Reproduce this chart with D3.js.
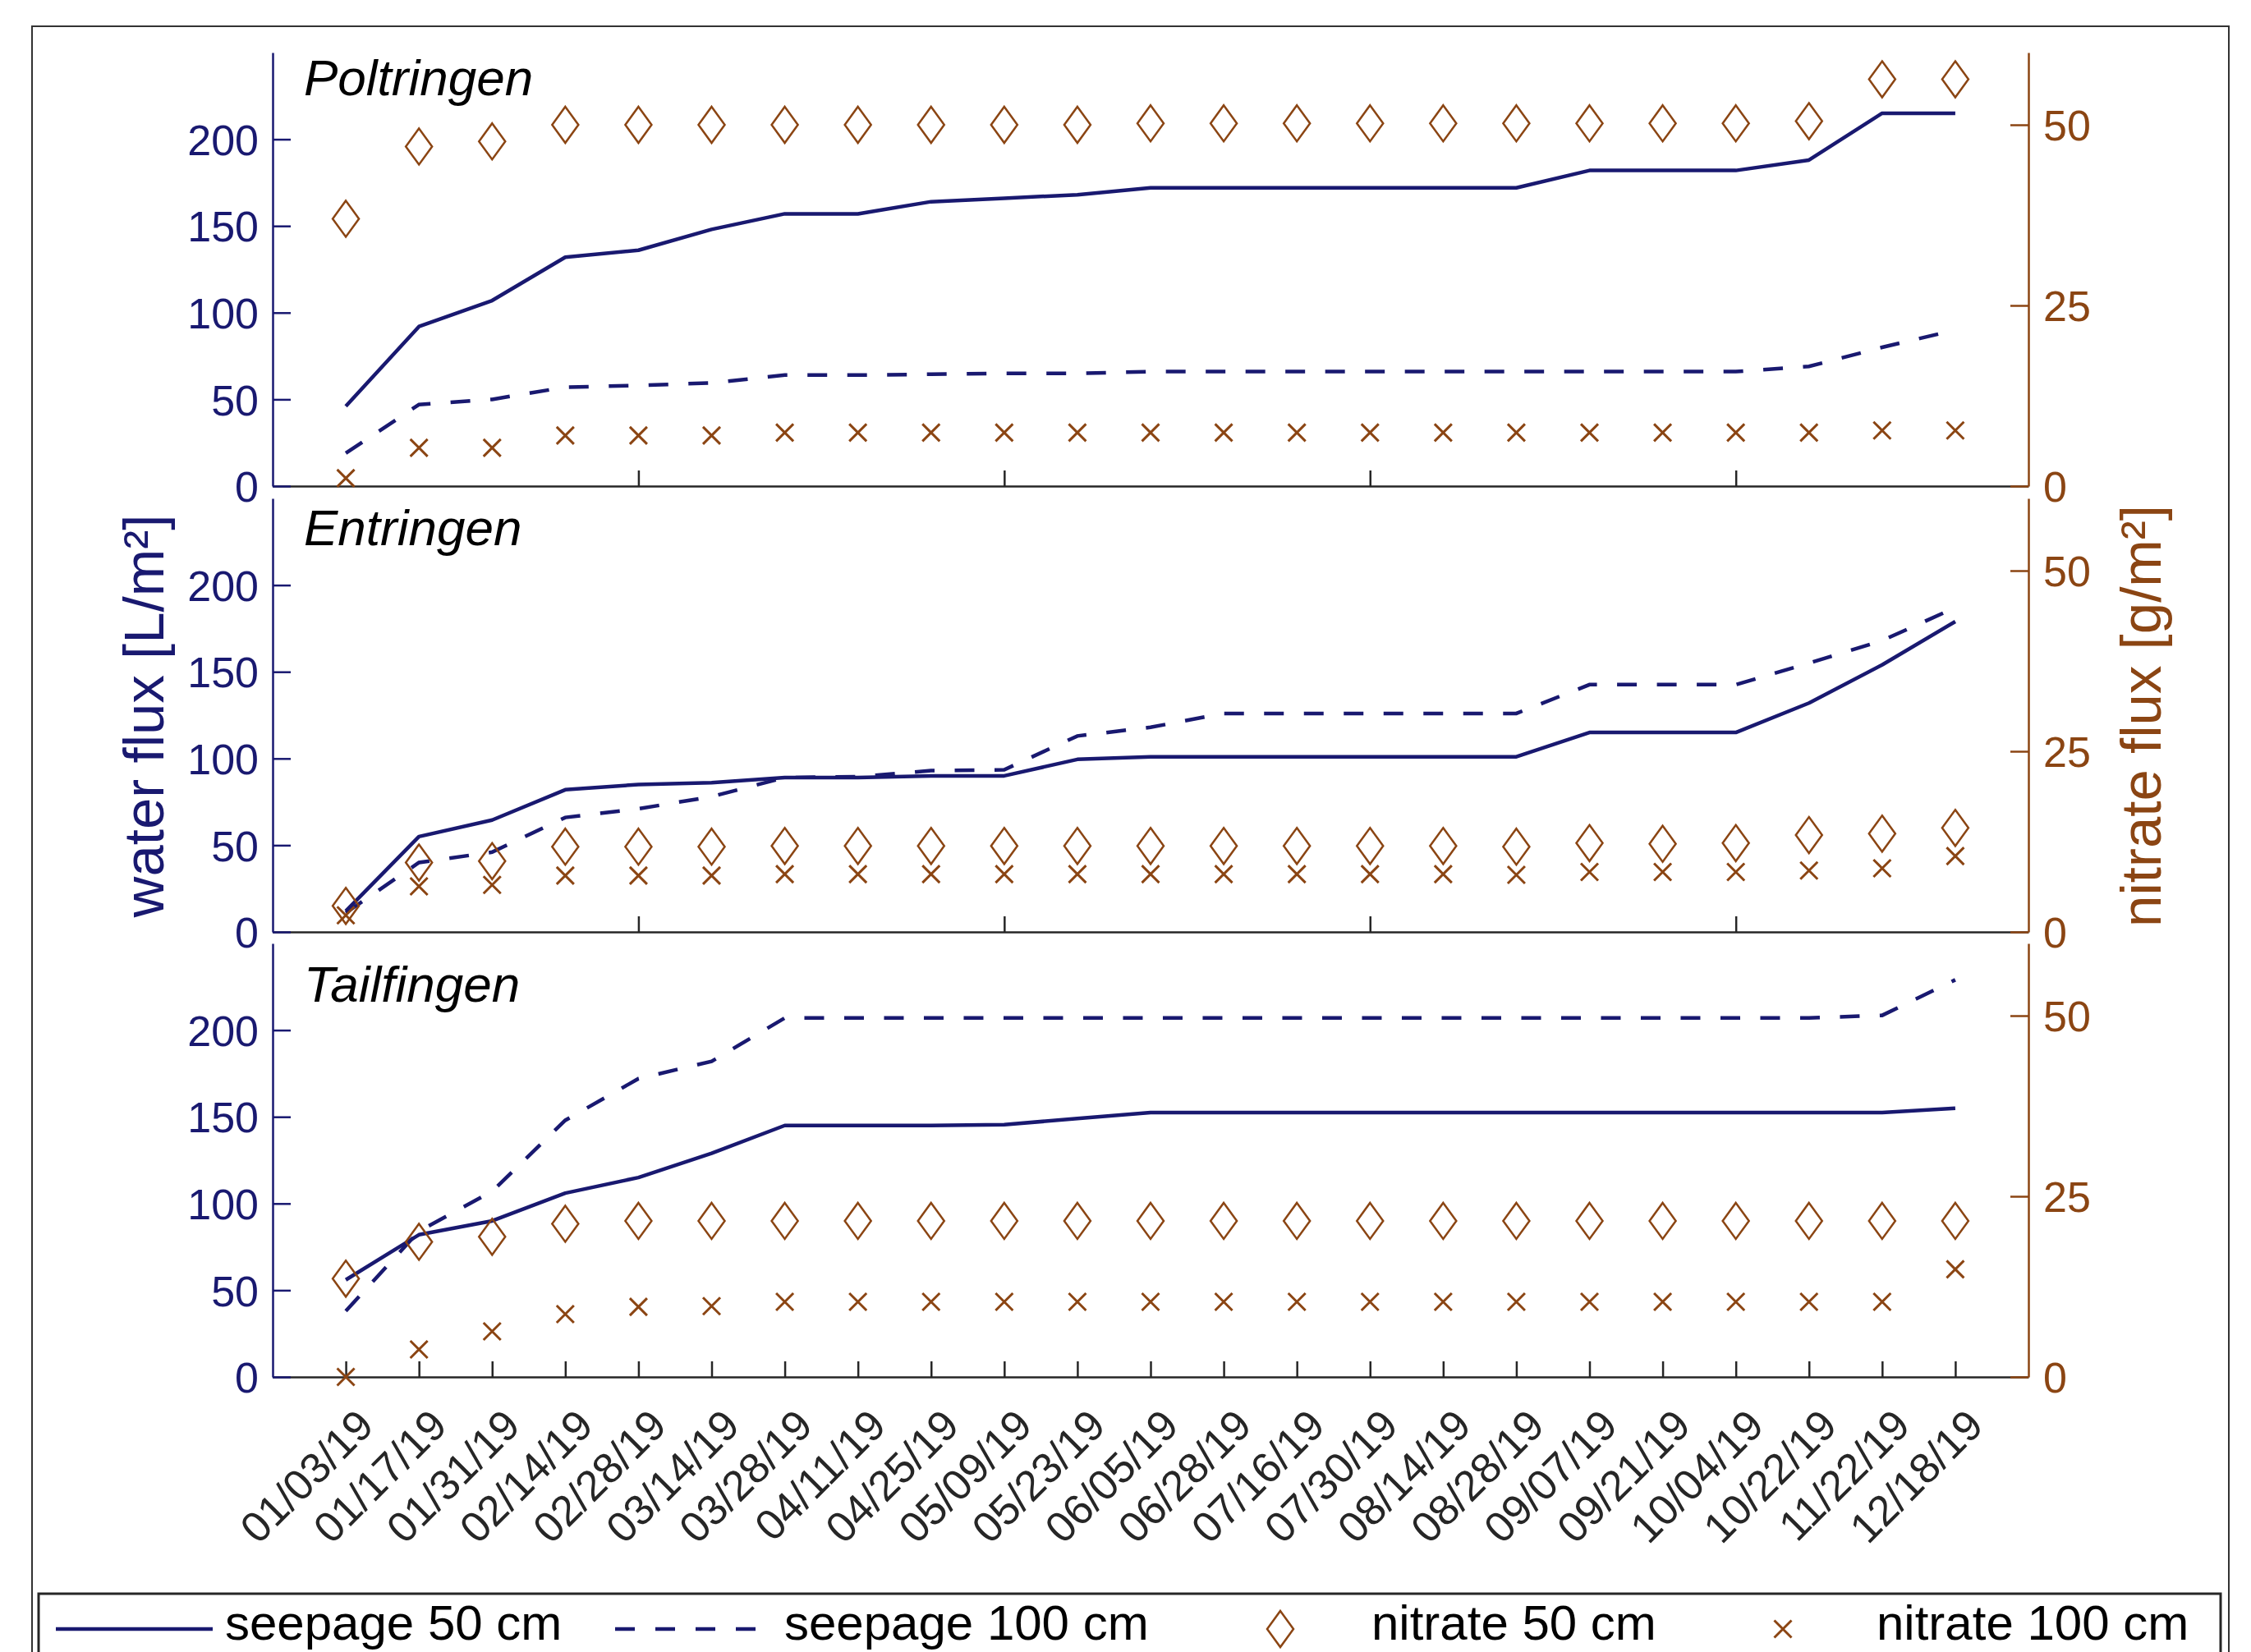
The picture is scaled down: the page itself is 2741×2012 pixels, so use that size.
<!DOCTYPE html>
<html>
<head>
<meta charset="utf-8">
<script src="https://cdn.jsdelivr.net/npm/d3@7"></script>
<style>
  html, body { margin: 0; padding: 0; background: #fff; }
  svg { display: block; }
  text { font-family: "Liberation Sans", Arial, sans-serif; }
</style>
</head>
<body>
<svg id="chart" width="2741" height="2012"></svg>
<script>
// ---------- data ----------
const dates = ["01/03/19","01/17/19","01/31/19","02/14/19","02/28/19","03/14/19","03/28/19","04/11/19",
  "04/25/19","05/09/19","05/23/19","06/05/19","06/28/19","07/16/19","07/30/19","08/14/19","08/28/19",
  "09/07/19","09/21/19","10/04/19","10/22/19","11/22/19","12/18/19"];

const siteNames = ["Poltringen", "Entringen", "Tailfingen"];

// water flux [L/m²] (left axis)
const poltSeep50  = [46, 92, 107, 132, 136, 148, 157, 157, 164, 166, 168, 172, 172, 172, 172, 172, 172, 182, 182, 182, 188, 215, 215];
const poltSeep100 = [19, 47, 50, 57, 58, 59.5, 64, 64, 64.5, 65, 65, 66, 66, 66, 66, 66, 66, 66, 66, 66, 69, 80, 90];
const entrSeep50  = [12, 55, 64.5, 82, 85, 86, 89, 89, 90, 90, 99.5, 101, 101, 101, 101, 101, 101, 115, 115, 115, 132, 154, 179];
const entrSeep100 = [11, 40, 46, 66, 71, 78, 89, 89.5, 93, 93.5, 113, 118, 126, 126, 126, 126, 126, 142.6, 142.6, 142.6, 155, 168, 187];
const tailSeep50  = [56, 82, 90, 106, 115, 129, 145, 145, 145, 145.5, 149, 152.5, 152.5, 152.5, 152.5, 152.5, 152.5, 152.5, 152.5, 152.5, 152.5, 152.5, 155];
const tailSeep100 = [38, 84, 107, 148, 172, 182, 207, 207, 207, 207, 207, 207, 207, 207, 207, 207, 207, 207, 207, 207, 207, 208.5, 229];

// nitrate flux [g/m²] (right axis)
const poltNit50  = [37, 47, 47.7, 50, 50, 50, 50, 50, 50, 50, 50, 50.2, 50.2, 50.2, 50.2, 50.2, 50.2, 50.2, 50.2, 50.2, 50.5, 56.3, 56.3];
const poltNit100 = [1.1, 5.3, 5.3, 7.0, 7.0, 7.0, 7.4, 7.4, 7.4, 7.4, 7.4, 7.4, 7.4, 7.4, 7.4, 7.4, 7.4, 7.4, 7.4, 7.4, 7.4, 7.7, 7.7];
const entrNit50  = [3.6, 9.6, 9.8, 11.8, 11.8, 11.8, 11.9, 11.9, 11.9, 11.9, 11.9, 11.9, 11.9, 11.9, 11.9, 11.9, 11.8, 12.3, 12.2, 12.3, 13.4, 13.6, 14.4];
const entrNit100 = [2.3, 6.3, 6.5, 7.8, 7.8, 7.8, 8.0, 8.0, 8.0, 8.0, 8.0, 8.0, 8.0, 8.0, 8.0, 8.0, 7.9, 8.3, 8.3, 8.3, 8.5, 8.8, 10.5];
const tailNit50  = [13.6, 18.7, 19.4, 21.2, 21.6, 21.6, 21.6, 21.6, 21.6, 21.6, 21.6, 21.6, 21.6, 21.6, 21.6, 21.6, 21.6, 21.6, 21.6, 21.6, 21.6, 21.6, 21.6];
const tailNit100 = [0, 3.8, 6.3, 8.7, 9.7, 9.8, 10.4, 10.4, 10.4, 10.4, 10.4, 10.4, 10.4, 10.4, 10.4, 10.4, 10.4, 10.4, 10.4, 10.4, 10.4, 10.4, 14.9];

const leftTicks = [0, 50, 100, 150, 200];
const rightTicks = [0, 25, 50];
const upperXTicks = [4, 9, 14, 19];
const legendLabels = ["seepage 50 cm", "seepage 100 cm", "nitrate 50 cm", "nitrate 100 cm"];

const panels = [
  {name: siteNames[0], s50: poltSeep50, s100: poltSeep100, n50: poltNit50, n100: poltNit100},
  {name: siteNames[1], s50: entrSeep50, s100: entrSeep100, n50: entrNit50, n100: entrNit100},
  {name: siteNames[2], s50: tailSeep50, s100: tailSeep100, n50: tailNit50, n100: tailNit100}
];

// ---------- layout ----------
const NAVY = "#191970", BROWN = "#8B4513", AXIS = "#262626";
const FONT = "'Liberation Sans', Arial, sans-serif";
const plotLeft = 332, plotRight = 2470;
const panelTops = [64, 607, 1149];
const panelH = 528;
const titleOffsets = [52, 57, 71];

const svg = d3.select("#chart");
svg.append("rect").attr("width", 2741).attr("height", 2012).attr("fill", "#fff");

// outer figure frame
svg.append("rect").attr("x", 39).attr("y", 32).attr("width", 2675).attr("height", 2100)
  .attr("fill", "none").attr("stroke", "#333").attr("stroke-width", 2);

const x = d3.scaleLinear().domain([-1, 23]).range([plotLeft, plotRight]);

const diamondPath = "M0,-22 L16,0 L0,22 L-16,0 Z";
const crossPath = "M-10.5,-10.5 L10.5,10.5 M-10.5,10.5 L10.5,-10.5";

panels.forEach((p, pi) => {
  const top = panelTops[pi], bottom = top + panelH;
  const yL = d3.scaleLinear().domain([0, 250]).range([bottom, top]);
  const yR = d3.scaleLinear().domain([0, 60]).range([bottom, top]);
  const g = svg.append("g");
  const isLast = pi === panels.length - 1;

  // x axis
  const xAxis = d3.axisBottom(x)
    .tickValues(isLast ? d3.range(dates.length) : upperXTicks)
    .tickSizeInner(-19).tickSizeOuter(0)
    .tickFormat(i => isLast ? dates[i] : "");
  const gx = g.append("g").attr("transform", `translate(0,${bottom})`)
    .attr("color", AXIS).call(xAxis);
  gx.select(".domain").attr("stroke-width", 2.5);
  gx.selectAll(".tick line").attr("stroke-width", 2.5);
  gx.selectAll(".tick text")
    .attr("font-family", FONT).attr("font-size", 52).attr("fill", AXIS)
    .attr("x", null).attr("y", null).attr("dy", "0.358em")
    .attr("text-anchor", "end")
    .attr("transform", "translate(23,49) rotate(-45)");

  // lines
  const line = d3.line().x((d, i) => x(i)).y(d => yL(d));
  g.append("path").datum(p.s50).attr("d", line)
    .attr("fill", "none").attr("stroke", NAVY).attr("stroke-width", 4.5).attr("stroke-linejoin", "round");
  g.append("path").datum(p.s100).attr("d", line)
    .attr("fill", "none").attr("stroke", NAVY).attr("stroke-width", 4.5)
    .attr("stroke-dasharray", "24,24.5");

  // markers
  g.selectAll(".dia").data(p.n50).enter().append("path")
    .attr("transform", (d, i) => `translate(${x(i)},${yR(d)})`)
    .attr("d", diamondPath).attr("fill", "none").attr("stroke", BROWN).attr("stroke-width", 2.5);
  g.selectAll(".crs").data(p.n100).enter().append("path")
    .attr("transform", (d, i) => `translate(${x(i)},${yR(d)})`)
    .attr("d", crossPath).attr("fill", "none").attr("stroke", BROWN).attr("stroke-width", 3);

  // left axis
  const gl = g.append("g").attr("transform", `translate(${plotLeft},0)`).attr("color", NAVY)
    .call(d3.axisLeft(yL).tickValues(leftTicks).tickSizeInner(-22).tickSizeOuter(0).tickPadding(17));
  gl.select(".domain").attr("stroke-width", 2.5);
  gl.selectAll(".tick line").attr("stroke-width", 2.5);
  gl.selectAll(".tick text").attr("font-family", FONT).attr("font-size", 52).attr("dy", "0.358em");

  // right axis
  const gr = g.append("g").attr("transform", `translate(${plotRight},0)`).attr("color", BROWN)
    .call(d3.axisRight(yR).tickValues(rightTicks).tickSizeInner(-22).tickSizeOuter(0).tickPadding(18));
  gr.select(".domain").attr("stroke-width", 2.5);
  gr.selectAll(".tick line").attr("stroke-width", 2.5);
  gr.selectAll(".tick text").attr("font-family", FONT).attr("font-size", 52).attr("dy", "0.358em");

  // panel title
  g.append("text").attr("x", 370).attr("y", top + titleOffsets[pi])
    .attr("font-family", FONT).attr("font-size", 62).attr("font-style", "italic")
    .attr("fill", "#000").text(p.name);
});

// axis titles
svg.append("text").attr("transform", "translate(199,872) rotate(-90)")
  .attr("text-anchor", "middle").attr("font-family", FONT).attr("font-size", 69)
  .attr("fill", NAVY).text("water flux [L/m²]");
svg.append("text").attr("transform", "translate(2631,872) rotate(-90)")
  .attr("text-anchor", "middle").attr("font-family", FONT).attr("font-size", 69)
  .attr("fill", BROWN).text("nitrate flux [g/m²]");

// legend
const lg = svg.append("g");
lg.append("rect").attr("x", 47).attr("y", 1941).attr("width", 2657).attr("height", 200)
  .attr("fill", "#fff").attr("stroke", AXIS).attr("stroke-width", 3);
const legY = 1984, legTextY = 1997;
lg.append("line").attr("x1", 68).attr("x2", 259).attr("y1", legY).attr("y2", legY)
  .attr("stroke", NAVY).attr("stroke-width", 4.5);
lg.append("line").attr("x1", 749).attr("x2", 920).attr("y1", legY).attr("y2", legY)
  .attr("stroke", NAVY).attr("stroke-width", 4.5).attr("stroke-dasharray", "24,25");
lg.append("path").attr("transform", `translate(1559,${legY})`).attr("d", diamondPath)
  .attr("fill", "none").attr("stroke", BROWN).attr("stroke-width", 2.5);
lg.append("path").attr("transform", `translate(2171,${legY})`).attr("d", crossPath)
  .attr("fill", "none").attr("stroke", BROWN).attr("stroke-width", 3);
const legTextX = [274, 955, 1670, 2285];
legendLabels.forEach((t, i) => {
  lg.append("text").attr("x", legTextX[i]).attr("y", legTextY)
    .attr("font-family", FONT).attr("font-size", 60).attr("fill", "#000").text(t);
});
</script>
</body>
</html>
